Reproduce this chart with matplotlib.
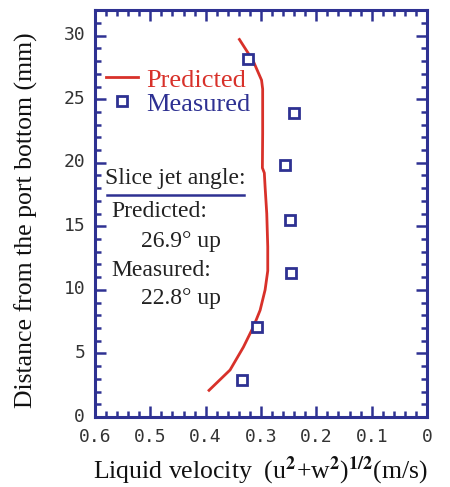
import numpy as np
import matplotlib
matplotlib.use('Agg')
import matplotlib.pyplot as plt
import matplotlib.transforms as mtransforms
from matplotlib.ticker import MultipleLocator

# Liquid velocity (m/s) vs distance from port bottom (mm)
predVel = [0.339, 0.314, 0.299, 0.297, 0.297, 0.2975, 0.294, 0.2926, 0.2896,
           0.2878, 0.2878, 0.2926, 0.3016, 0.3137, 0.3318, 0.3559, 0.3939]
predDist = [29.7, 28.0, 26.5, 25.8, 22.3, 19.6, 19.2, 18.1, 16.0,
            13.4, 11.5, 10.0, 8.4, 7.1, 5.5, 3.7, 2.1]

measVel = [0.323, 0.240, 0.257, 0.248, 0.245, 0.307, 0.334]
measDist = [28.2, 23.9, 19.8, 15.5, 11.3, 7.1, 2.9]

xTicks = [0.6, 0.5, 0.4, 0.3, 0.2, 0.1, 0]
xTickLabels = ['0.6', '0.5', '0.4', '0.3', '0.2', '0.1', '0']
yTicks = [0, 5, 10, 15, 20, 25, 30]

navy = '#2e3192'
red = '#d8312a'
serif = 'Liberation Serif'

plt.rcParams['font.family'] = serif
plt.rcParams['mathtext.fontset'] = 'stix'

fig = plt.figure(figsize=(4.5, 4.87), dpi=100)
ax = fig.add_axes([0.211, 0.1437, 0.738, 0.8353])

ax.plot(predVel, predDist, color=red, lw=2.0, label='Predicted')
ax.plot(measVel, measDist, linestyle='none', marker='s', markersize=7,
        markerfacecolor='white', markeredgecolor=navy, markeredgewidth=2.0,
        label='Measured')

ax.set_xlim(0.6, 0)
ax.set_ylim(0, 32)
ax.set_xticks(xTicks)
ax.set_xticklabels(xTickLabels)
ax.set_yticks(yTicks)
ax.xaxis.set_minor_locator(MultipleLocator(0.02))
ax.yaxis.set_minor_locator(MultipleLocator(1))

for s in ax.spines.values():
    s.set_color(navy)
    s.set_linewidth(2.2)

ax.tick_params(which='both', direction='in', top=True, right=True,
               color=navy, width=1.8, labelcolor='#333333', labelsize=13)
ax.tick_params(axis='x', pad=8)
ax.tick_params(axis='y', pad=7)
ax.tick_params(which='major', length=8)
ax.tick_params(which='minor', length=4)
for lab in ax.get_xticklabels() + ax.get_yticklabels():
    lab.set_fontfamily('DejaVu Sans Mono')
# y tick labels sit a little above their ticks in the original
shiftUp = mtransforms.ScaledTranslation(0, 1.8 / 72, fig.dpi_scale_trans)
for lab in ax.get_yticklabels():
    lab.set_transform(lab.get_transform() + shiftUp)

ax.set_xlabel(r'Liquid velocity  (u$^{\mathbf{2}}$+w$^{\mathbf{2}}$)$^{\mathbf{1/2}}$(m/s)',
              fontsize=18.5, color='#111111', labelpad=6)
ax.set_ylabel('Distance from the port bottom (mm)', fontsize=18.5, color='#111111')
ax.yaxis.set_label_coords(-0.172, 0.484)

leg = ax.legend(loc='upper left', bbox_to_anchor=(-0.006, 0.89), frameon=False,
                fontsize=19, handlelength=1.2, handletextpad=0.3,
                labelspacing=0.02, labelcolor=[red, navy], borderpad=0)

# annotation block
txtKw = dict(transform=ax.transAxes, fontsize=17, color='#222222', va='center', ha='left')
ax.text(0.030, 0.587, 'Slice jet angle:', **txtKw)
ax.axhline(17.5, xmin=0.036, xmax=0.449, color=navy, lw=1.8)
ax.text(0.048, 0.504, 'Predicted:', **txtKw)
ax.text(0.140, 0.431, '26.9° up', **txtKw)
ax.text(0.048, 0.361, 'Measured:', **txtKw)
ax.text(0.140, 0.292, '22.8° up', **txtKw)

fig.savefig('out.png', dpi=100)
